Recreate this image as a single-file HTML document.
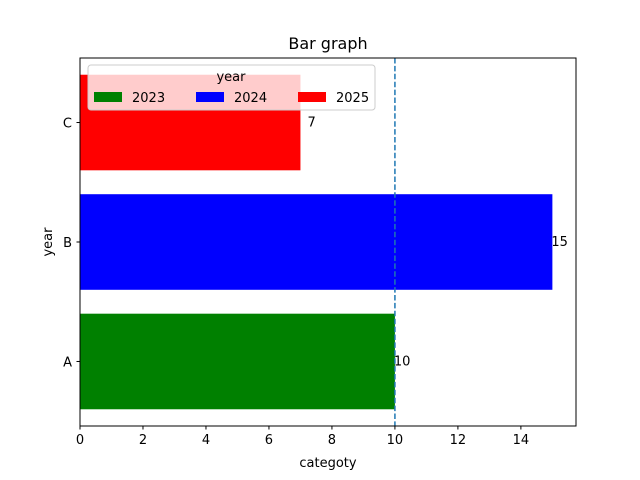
<!DOCTYPE html>
<html><head><meta charset="utf-8"><style>body{margin:0;background:#fff}svg{display:block;font-family:"DejaVu Sans","Liberation Sans",sans-serif}</style></head>
<body>
<svg id="chart" width="640" height="480" viewBox="0 0 640 480"></svg>
<script>
const categories = ["A","B","C"];
const values = [10,15,7];
const seriesNames = ["2023","2024","2025"];
const colors = ["green","blue","red"];
const xTicks = [0,2,4,6,8,10,12,14];
const refLine = 10;

const L=80,R=576,T=58,B=426;
const xMax=15.75, yMin=-0.54, yMax=2.54;
const xs=v=>L+(v/xMax)*(R-L);
const ys=v=>B-(v-yMin)/(yMax-yMin)*(B-T);
const svg=document.getElementById('chart');
const NS='http://www.w3.org/2000/svg';
function mk(tag,attrs,parent,text){const e=document.createElementNS(NS,tag);for(const k in attrs)e.setAttribute(k,attrs[k]);if(text!==undefined)e.textContent=text;(parent||svg).appendChild(e);return e;}

const bars=mk('g',{});


categories.forEach((c,i)=>{
  const y0=ys(i+0.4),y1=ys(i-0.4);
  const r=mk('rect',{x:xs(0),y:y0,width:xs(values[i])-xs(0),height:y1-y0,fill:colors[i]},bars);
  
  
  const t=mk('text',{x:xs(values[i])+(values[i]<10?7:-1),y:ys(i)+4,'font-size':13,fill:'#000'},bars,String(values[i]));
  
  
});

const vl=mk('line',{x1:xs(refLine),x2:xs(refLine),y1:T,y2:B,stroke:'#1f77b4','stroke-width':1.5,'stroke-dasharray':'5.5,2.4'});



const frame=mk('rect',{x:L,y:T,width:R-L,height:B-T,fill:'none',stroke:'#000','stroke-width':1});



xTicks.forEach(v=>{
  const x=xs(v);
  const tk=mk('line',{x1:x,x2:x,y1:B,y2:B+3.5,stroke:'#000'});
  
  
  const t=mk('text',{x:x,y:B+18,'text-anchor':'middle','font-size':13},svg,String(v));
  
  
});
categories.forEach((c,i)=>{
  const y=ys(i);
  const tk=mk('line',{x1:L-3.5,x2:L,y1:y,y2:y,stroke:'#000'});
  
  
  const t=mk('text',{x:L-8,y:y+5,'text-anchor':'end','font-size':13},svg,c);
  
  
});

const title=mk('text',{x:328,y:49,'text-anchor':'middle','font-size':16},svg,'Bar graph');


const xt=mk('text',{x:328,y:467,'text-anchor':'middle','font-size':13},svg,'categoty');


const yt=mk('text',{x:52,y:242,'text-anchor':'middle','font-size':13,transform:'rotate(-90 52 242)'},svg,'year');



const lg=mk('g',{});


mk('rect',{x:88,y:65,width:287,height:45,rx:3,fill:'#fff','fill-opacity':0.8,stroke:'#ccc'},lg);
const lt=mk('text',{x:231,y:81,'text-anchor':'middle','font-size':13},lg,'year');


const lx=[94,196,298];
seriesNames.forEach((n,i)=>{
  const e=mk('g',{},lg);
  
  
  mk('rect',{x:lx[i],y:92,width:28,height:10,fill:colors[i]},e);
  mk('text',{x:lx[i]+38,y:102,'font-size':13},e,n);
});
</script>
</body></html>
